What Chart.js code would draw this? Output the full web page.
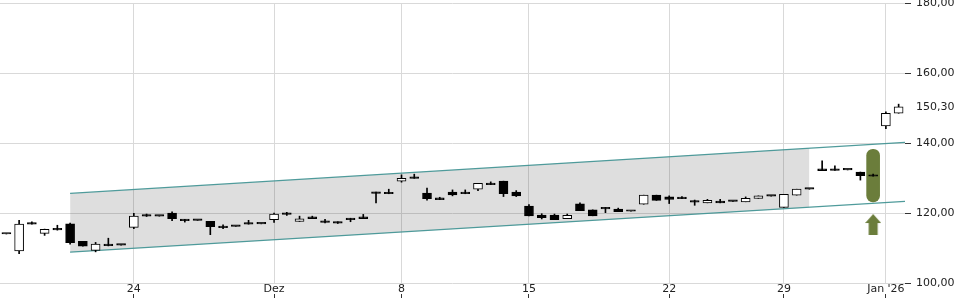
<!DOCTYPE html>
<html>
<head>
<meta charset="utf-8">
<script src="https://cdn.jsdelivr.net/npm/chart.js@4"></script>
<style>
  html, body { margin: 0; padding: 0; background: #fff; }
  #wrap { width: 960px; height: 300px; position: relative; }
</style>
</head>
<body>
<div id="wrap"><canvas id="stock-chart"></canvas></div>
<script>
// ===== OHLC values (one entry per candle) =====
const opens  = [114.0,109.2,117.2,114.2,115.6,116.9,111.9,109.3,111.1,110.8,
                115.9,119.4,119.1,120.0,118.2,117.9,117.6,116.2,116.2,117.1,
                116.9,118.1,120.0,117.6,118.9,117.4,117.5,118.5,118.9,126.0,
                125.7,129.1,130.1,125.7,124.3,126.0,126.0,126.8,128.5,129.1,
                126.0,122.0,119.4,119.4,118.4,122.6,120.9,121.6,121.1,120.5,
                122.5,125.1,124.6,124.3,123.1,122.9,123.4,123.3,123.2,124.2,
                124.8,121.6,125.1,126.8,132.6,132.5,132.3,131.7,130.5,144.9,
                148.5];
const highs  = [114.0,117.9,117.5,115.4,116.5,117.1,111.9,111.6,112.8,110.8,
                119.9,119.7,119.1,120.3,118.2,117.9,117.6,116.6,116.2,117.9,
                116.9,120.0,120.2,119.1,119.1,118.2,117.5,118.5,119.6,126.0,
                126.8,130.9,131.1,127.1,124.5,126.6,126.6,128.5,128.9,129.1,
                126.4,122.4,119.8,119.7,119.7,122.9,120.9,121.6,121.4,120.5,
                125.1,125.1,124.9,124.7,123.7,123.9,123.9,123.3,124.6,124.9,
                124.8,125.3,126.8,126.8,134.9,133.5,132.3,131.7,131.1,148.9,
                151.1];
const lows   = [114.0,108.4,116.8,113.6,115.1,111.1,110.5,108.9,110.6,110.8,
                115.5,119.0,119.1,117.8,117.4,117.9,113.8,115.5,116.2,116.8,
                116.9,117.3,119.3,117.6,118.4,117.2,117.0,117.5,118.4,122.9,
                125.5,128.8,129.9,123.7,123.8,124.9,125.5,126.4,128.1,124.7,
                124.7,119.2,118.3,118.1,118.4,120.7,119.2,120.1,120.4,120.5,
                122.5,123.6,122.7,124.1,122.2,122.9,122.9,123.3,123.2,124.2,
                124.8,121.6,125.1,126.8,132.1,132.2,132.3,129.4,130.5,144.1,
                148.5];
const closes = [114.0,116.8,116.8,115.3,115.2,111.5,110.5,111.1,110.7,110.8,
                119.1,119.1,119.1,118.4,117.8,117.9,116.1,115.8,116.2,116.8,
                116.9,119.7,119.6,118.3,118.4,117.3,117.1,118.1,118.4,125.6,
                125.5,129.9,129.9,124.1,123.8,125.2,125.5,128.5,128.1,125.5,
                124.9,119.2,118.7,118.1,119.3,120.7,119.2,121.2,120.4,120.5,
                125.1,123.6,123.9,124.1,123.1,123.6,122.9,123.3,124.2,124.9,
                124.8,125.3,126.8,126.8,132.1,132.2,132.3,130.7,130.5,148.5,
                150.3];

// ===== x axis: labelled candle positions =====
const tickLabels = ['24', 'Dez', '8', '15', '22', '29', "Jan '26"];
const tickIndex  = [10, 21, 31, 41, 52, 61, 69];

// ===== y axis =====
const yTicks = [100, 120, 140, 160, 180];
const lastPrice = 150.3;

// ===== trend channel (candle index / price) =====
const channelX     = [5, 70.5];
const channelUpper = [125.6, 140.2];
const channelLower = [108.8, 123.3];
const shadeX     = [5, 63];
const shadeUpper = [125.6, 138.6];
const shadeLower = [108.8, 121.6];

// ===== signal marker =====
const signalIndex = 68;
const signalRange = [123.2, 138.2];
const arrowPrice  = 116.7;

// ---- build what Chart.js needs ----
const xLabels = opens.map(() => '');
tickIndex.forEach((idx, k) => { xLabels[idx] = tickLabels[k]; });

const bodies = opens.map((o, i) => [Math.min(o, closes[i]), Math.max(o, closes[i])]);
const wicks  = lows.map((l, i) => [l, highs[i]]);
// rising candles hollow, falling and flat ones filled
const bodyColors = opens.map((o, i) => closes[i] > o ? '#ffffff' : '#000000');
const signalData = opens.map((o, i) => i === signalIndex ? signalRange : null);

const pts = (xs, ys) => xs.map((x, i) => ({ x: x, y: ys[i] }));
const fmt = v => v.toFixed(2).replace('.', ',');

// arrow drawn once and used as the point style
const arrow = document.createElement('canvas');
arrow.width = 16; arrow.height = 21;
(function() {
    const c = arrow.getContext('2d');
    c.fillStyle = '#6b7d3b';
    c.beginPath();
    c.moveTo(8, 0); c.lineTo(16, 9); c.lineTo(12.5, 9); c.lineTo(12.5, 21);
    c.lineTo(3.5, 21); c.lineTo(3.5, 9); c.lineTo(0, 9); c.closePath();
    c.fill();
})();

Chart.defaults.font.family = "'DejaVu Sans', sans-serif";
Chart.defaults.font.size = 11;
Chart.defaults.color = '#222';

const gridColor = '#d9d9d9';
const xGrid = ctx => xLabels[ctx.index] ? gridColor : 'rgba(0,0,0,0)';
const xTick = ctx => xLabels[ctx.index] ? '#333' : 'rgba(0,0,0,0)';
const noPad = (h) => scale => {
    scale.paddingLeft = 0; scale.paddingRight = 0;
    scale.paddingTop = 0; scale.paddingBottom = 0;
    if (h) scale.height = h;
};

new Chart(document.getElementById('stock-chart').getContext('2d'), {
    type: 'bar',
    data: {
        labels: xLabels,
        datasets: [
            {   // candle bodies
                data: bodies,
                backgroundColor: bodyColors,
                borderColor: '#000',
                borderWidth: 1,
                borderSkipped: false,
                barThickness: 9,
                minBarLength: 1.5,
                grouped: false,
                order: 0
            },
            {   // wicks
                data: wicks,
                backgroundColor: '#000',
                borderWidth: 0,
                barThickness: 1,
                grouped: false,
                order: 1
            },
            {   // green signal box
                data: signalData,
                backgroundColor: '#6b7d3b',
                borderWidth: 0,
                borderRadius: 7,
                borderSkipped: false,
                barThickness: 13,
                grouped: false,
                order: 2
            },
            {   // arrow
                type: 'line',
                xAxisID: 'x2',
                data: [{ x: signalIndex, y: arrowPrice }],
                showLine: false,
                pointStyle: arrow,
                pointRadius: 8,
                order: 2
            },
            {   // channel upper line
                type: 'line',
                xAxisID: 'x2',
                data: pts(channelX, channelUpper),
                borderColor: 'rgba(70,150,150,0.95)',
                borderWidth: 1.2,
                pointRadius: 0,
                fill: false,
                order: 3
            },
            {   // channel lower line
                type: 'line',
                xAxisID: 'x2',
                data: pts(channelX, channelLower),
                borderColor: 'rgba(70,150,150,0.95)',
                borderWidth: 1.2,
                pointRadius: 0,
                fill: false,
                order: 3
            },
            {   // shaded area top
                type: 'line',
                xAxisID: 'x2',
                data: pts(shadeX, shadeUpper),
                borderWidth: 0,
                pointRadius: 0,
                backgroundColor: 'rgba(0,0,0,0.13)',
                fill: '+1',
                order: 4
            },
            {   // shaded area bottom
                type: 'line',
                xAxisID: 'x2',
                data: pts(shadeX, shadeLower),
                borderWidth: 0,
                pointRadius: 0,
                fill: false,
                order: 4
            }
        ]
    },
    options: {
        responsive: true,
        maintainAspectRatio: false,
        animation: false,
        layout: { autoPadding: false, padding: { top: 3, left: 0, right: 0, bottom: 0 } },
        plugins: { legend: { display: false }, tooltip: { enabled: false } },
        scales: {
            x: {
                position: 'bottom',
                offset: true,
                grid: { offset: false, color: xGrid, drawTicks: false },
                border: { display: false },
                ticks: { autoSkip: false, maxRotation: 0, padding: 0 },
                afterFit: noPad(11)
            },
            x3: {
                type: 'category',
                labels: xLabels,
                position: 'bottom',
                offset: true,
                grid: { offset: false, drawOnChartArea: false, tickColor: xTick, tickLength: 4 },
                border: { display: false },
                ticks: { display: false },
                afterFit: noPad(6)
            },
            x2: {
                type: 'linear',
                display: false,
                offset: false,
                min: -0.5,
                max: 70.5
            },
            y: {
                position: 'right',
                min: 100,
                max: 180,
                border: { display: false },
                grid: {
                    color: ctx => ctx.tick && ctx.tick.value === lastPrice ? 'rgba(0,0,0,0)' : gridColor,
                    tickColor: ctx => ctx.tick && ctx.tick.value === lastPrice ? 'rgba(0,0,0,0)' : '#333',
                    tickLength: 6
                },
                afterBuildTicks: scale => {
                    scale.ticks = yTicks.concat([lastPrice]).sort((a, b) => a - b).map(v => ({ value: v }));
                },
                afterFit: scale => { noPad(0)(scale); scale.width = 55; },
                ticks: { autoSkip: false, padding: 5, callback: v => fmt(v) }
            }
        }
    }
});
</script>
</body>
</html>
